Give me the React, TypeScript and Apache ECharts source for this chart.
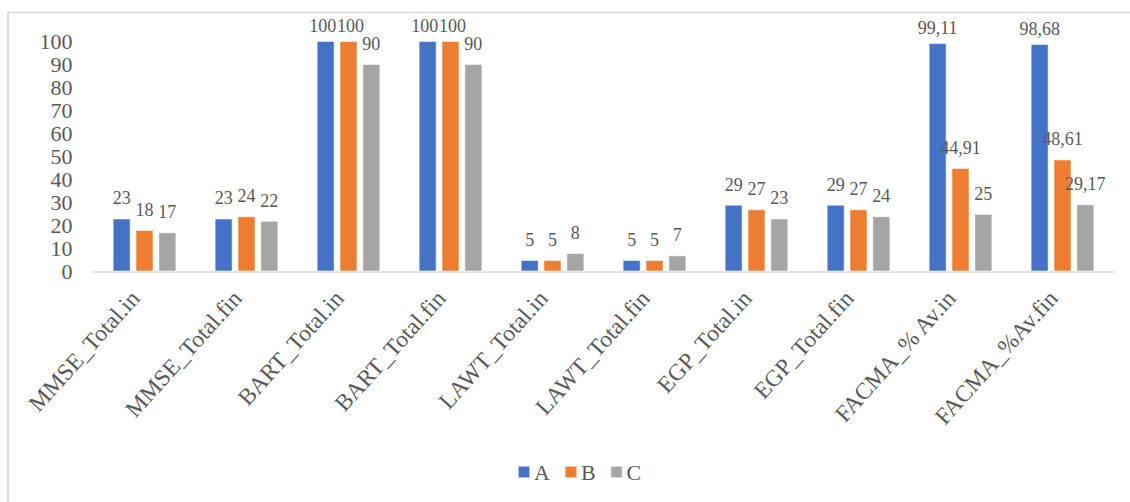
import React, { useEffect, useRef } from "react";
import * as echarts from "echarts";

const categories = [
  "MMSE_Total.in",
  "MMSE_Total.fin",
  "BART_Total.in",
  "BART_Total.fin",
  "LAWT_Total.in",
  "LAWT_Total.fin",
  "EGP_Total.in",
  "EGP_Total.fin",
  "FACMA_% Av.in",
  "FACMA_%Av.fin",
];

const seriesA = [23, 23, 100, 100, 5, 5, 29, 29, 99.11, 98.68];
const seriesB = [18, 24, 100, 100, 5, 5, 27, 27, 44.91, 48.61];
const seriesC = [17, 22, 90, 90, 8, 7, 23, 24, 25, 29.17];

const seriesNames = ["A", "B", "C"];
const seriesColors = ["#4472C4", "#ED7D31", "#A5A5A5"];

const yTicks = [0, 10, 20, 30, 40, 50, 60, 70, 80, 90, 100];

const FONT = "'Liberation Serif', 'Times New Roman', serif";
const TEXT = "#595959";

export default function App() {
  const ref = useRef<HTMLDivElement>(null);

  useEffect(() => {
    if (!ref.current) return;
    const chart = echarts.init(ref.current, undefined, { renderer: "svg" });

    // neighbouring "100" labels are nudged apart so they sit side by side
    const makeSeries = (
      name: string,
      values: number[],
      color: string,
      crowdShift: number
    ) => ({
      name,
      type: "bar",
      barWidth: 18,
      barGap: "27%",
      itemStyle: { color, borderColor: "rgba(255,255,255,0.55)", borderWidth: 1 },
      data: values.map((v) => ({
        value: v,
        label: {
          distance: v > 95 ? 6 : 11,
          offset: [v >= 100 ? crowdShift : 0, 0],
        },
      })),
      label: {
        show: true,
        position: "top",
        fontFamily: FONT,
        fontSize: 18,
        color: TEXT,
        formatter: (p: any) => String(p.value).replace(".", ","),
      },
    });

    chart.setOption({
      animation: false,
      backgroundColor: "#ffffff",
      textStyle: { fontFamily: FONT },
      graphic: [
        {
          type: "line",
          shape: { x1: 8, y1: 12.5, x2: 1130, y2: 12.5 },
          style: { stroke: "#D9D9D9", lineWidth: 1.5 },
        },
        {
          type: "line",
          shape: { x1: 8, y1: 12.5, x2: 8, y2: 502 },
          style: { stroke: "#D9D9D9", lineWidth: 2 },
        },
      ],
      grid: { left: 93.5, right: 16.5, top: 41, bottom: 230.5 },
      legend: {
        data: seriesNames,
        left: 512,
        top: 456,
        icon: "rect",
        itemWidth: 12,
        itemHeight: 12,
        itemGap: 14,
        textStyle: { fontFamily: FONT, fontSize: 22, color: TEXT, padding: [0, 0, 0, -1] },
      },
      xAxis: {
        type: "category",
        data: categories,
        axisLine: { lineStyle: { color: "#D9D9D9", width: 1.5 } },
        axisTick: { show: false },
        axisLabel: {
          rotate: 48,
          margin: 12,
          padding: [0, 14, 0, 0],
          interval: 0,
          fontFamily: FONT,
          fontSize: 23.5,
          color: TEXT,
        },
      },
      yAxis: {
        type: "value",
        min: yTicks[0],
        max: yTicks[yTicks.length - 1],
        interval: 10,
        axisLine: { show: false },
        axisTick: { show: false },
        splitLine: { show: false },
        axisLabel: {
          margin: 21,
          fontFamily: FONT,
          fontSize: 22,
          color: TEXT,
        },
      },
      series: [
        makeSeries(seriesNames[0], seriesA, seriesColors[0], -3),
        makeSeries(seriesNames[1], seriesB, seriesColors[1], 2),
        makeSeries(seriesNames[2], seriesC, seriesColors[2], 0),
      ],
    });

    return () => chart.dispose();
  }, []);

  return (
    <div
      ref={ref}
      style={{ position: "fixed", left: 0, top: 0, width: 1130, height: 502 }}
    />
  );
}
